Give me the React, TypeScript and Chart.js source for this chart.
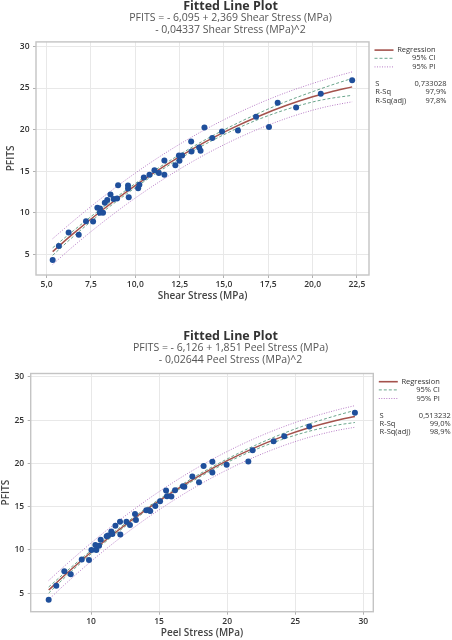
import React, { useEffect, useRef } from "react";
import { Chart, registerables } from "chart.js";

Chart.register(...registerables);

// ---------- shared ----------
const chartTitle = "Fitted Line Plot";
const yTitle = "PFITS";
const pfitsTicks = [5, 10, 15, 20, 25, 30];
const pfitsTickLabels = ["5", "10", "15", "20", "25", "30"];
const legendLabels = ["Regression", "95% CI", "95% PI"];
const statLabels = ["S", "R-Sq", "R-Sq(adj)"];

// ---------- panel 1 : Shear Stress ----------
const shearStress = [
  5.34, 5.69, 6.24, 6.81, 7.22, 7.62, 7.86, 8.01, 8.0, 8.18, 8.28, 8.42, 8.6, 8.78, 8.97,
  9.03, 9.59, 9.59, 9.63, 10.16, 10.23, 10.48, 10.8, 11.08, 11.33, 11.64, 11.64, 12.26,
  12.46, 12.49, 12.64, 13.17, 13.15, 13.6, 13.68, 13.9, 14.34, 14.89, 15.79, 16.81, 17.54,
  18.03, 19.07, 20.46, 22.23,
];
const shearPfits = [
  4.31, 6.0, 7.6, 7.33, 8.97, 8.93, 10.6, 10.5, 10.0, 10.0, 11.2, 11.54, 12.2, 11.66, 11.7,
  13.3, 13.26, 12.9, 11.87, 12.95, 13.35, 14.23, 14.55, 15.1, 14.76, 14.55, 16.28, 15.72,
  16.88, 16.24, 16.88, 17.36, 18.57, 17.85, 17.45, 20.25, 19.0, 19.78, 19.9, 21.55, 20.3,
  23.23, 22.67, 24.3, 25.95,
];
const shearFitX = [5.34, 6.5, 8, 9.5, 11, 12.5, 14, 15.5, 17, 18.5, 20, 21, 22.23];
const shearFit = [5.32, 7.47, 10.08, 12.5, 14.72, 16.74, 18.57, 20.2, 21.64, 22.89, 23.94, 24.53, 25.14];
const shearCiUpper = [5.77, 7.82, 10.36, 12.75, 14.96, 16.99, 18.84, 20.5, 22.01, 23.37, 24.56, 25.31, 26.16];
const shearCiLower = [4.87, 7.12, 9.8, 12.25, 14.48, 16.49, 18.3, 19.9, 21.27, 22.41, 23.32, 23.75, 24.12];
const shearPiUpper = [6.87, 8.99, 11.59, 14.0, 16.22, 18.24, 20.07, 21.71, 23.17, 24.45, 25.55, 26.21, 26.94];
const shearPiLower = [3.77, 5.95, 8.57, 11.0, 13.22, 15.24, 17.07, 18.69, 20.11, 21.33, 22.33, 22.85, 23.34];
const shearTicks = [5, 7.5, 10, 12.5, 15, 17.5, 20, 22.5];
const shearTickLabels = ["5,0", "7,5", "10,0", "12,5", "15,0", "17,5", "20,0", "22,5"];
const shearAxisTitle = "Shear Stress (MPa)";
const shearEquation = ["PFITS = - 6,095 + 2,369 Shear Stress (MPa)", "- 0,04337 Shear Stress (MPa)^2"];
const shearStatValues = ["0,733028", "97,9%", "97,8%"];

// ---------- panel 2 : Peel Stress ----------
const peelStress = [
  6.89, 7.45, 8.04, 8.51, 9.32, 9.85, 10.03, 10.32, 10.39, 10.59, 10.71, 11.15, 11.25, 11.49,
  11.57, 11.79, 12.13, 12.15, 12.6, 12.86, 13.23, 13.3, 14.06, 14.26, 14.35, 14.72, 15.07,
  15.51, 15.58, 15.9, 16.17, 16.75, 16.85, 17.44, 17.93, 18.27, 18.91, 18.91, 19.96, 21.55,
  21.87, 23.41, 24.19, 26.03, 29.38,
];
const peelPfits = [
  4.26, 5.88, 7.55, 7.2, 8.9, 8.83, 9.99, 10.57, 9.99, 10.49, 11.18, 11.6, 11.66, 12.15,
  11.84, 12.81, 13.27, 11.8, 13.27, 12.89, 14.16, 13.47, 14.58, 14.58, 14.51, 15.09, 15.63,
  16.87, 16.21, 16.17, 16.9, 17.37, 17.3, 18.49, 17.83, 19.69, 20.2, 18.96, 19.85, 20.23,
  21.51, 22.55, 23.13, 24.26, 25.85,
];
const peelFitX = [6.89, 8, 10, 12, 14, 16, 18, 20, 22, 24, 26, 28, 29.38];
const peelFit = [5.37, 6.99, 9.74, 12.28, 14.61, 16.72, 18.63, 20.32, 21.8, 23.07, 24.13, 24.97, 25.43];
const peelCiUpper = [5.72, 7.27, 9.94, 12.45, 14.77, 16.89, 18.81, 20.52, 22.05, 23.39, 24.55, 25.53, 26.13];
const peelCiLower = [5.02, 6.71, 9.54, 12.11, 14.45, 16.55, 18.45, 20.12, 21.55, 22.75, 23.71, 24.41, 24.73];
const peelPiUpper = [6.47, 8.07, 10.8, 13.33, 15.66, 17.77, 19.68, 21.38, 22.87, 24.16, 25.25, 26.15, 26.68];
const peelPiLower = [4.27, 5.91, 8.68, 11.23, 13.56, 15.67, 17.58, 19.26, 20.73, 21.98, 23.01, 23.79, 24.18];
const peelTicks = [10, 15, 20, 25, 30];
const peelTickLabels = ["10", "15", "20", "25", "30"];
const peelAxisTitle = "Peel Stress (MPa)";
const peelEquation = ["PFITS = - 6,126 + 1,851 Peel Stress (MPa)", "- 0,02644 Peel Stress (MPa)^2"];
const peelStatValues = ["0,513232", "99,0%", "98,9%"];

// ---------- styles ----------
const FONT = "'Open Sans', 'Noto Sans', sans-serif";
const POINT_COLOR = "#1f4f9b";
const REG_COLOR = "#a4524c";
const CI_COLOR = "#6aa58c";
const PI_COLOR = "#b77cc6";
const GRID_COLOR = "#e8e8e8";
const FRAME_COLOR = "#c4c4c4";

const legendStyles = [
  { color: REG_COLOR, dash: [] as number[], width: 1.6 },
  { color: CI_COLOR, dash: [3, 2], width: 1 },
  { color: PI_COLOR, dash: [1, 1.5], width: 1 },
];

type Layout = {
  padLeft: number;
  yAxisW: number;
  rightW: number;
  xAxisH: number;
  titlePadTop: number;
  subPadBottom: number;
  xTitlePadBottom: number;
  yTitlePadTop: number;
};

type Spec = {
  xs: number[];
  ys: number[];
  fitX: number[];
  fit: number[];
  ciU: number[];
  ciL: number[];
  piU: number[];
  piL: number[];
  xTicks: number[];
  xTickLabels: string[];
  xMin: number;
  xMax: number;
  yMin: number;
  yMax: number;
  xTitle: string;
  equation: string[];
  stats: string[];
  layout: Layout;
};

const sidePanel = {
  id: "sidePanel",
  afterDraw(chart: any, _args: any, opts: any) {
    const { ctx, chartArea } = chart;
    const x0 = chartArea.right;
    const y0 = chartArea.top;
    ctx.save();
    ctx.strokeStyle = FRAME_COLOR;
    ctx.lineWidth = 1.4;
    ctx.setLineDash([]);
    ctx.strokeRect(chartArea.left, chartArea.top, chartArea.right - chartArea.left, chartArea.bottom - chartArea.top);

    const legendY = [8.2, 16.4, 25];
    ctx.font = `7.5px ${FONT}`;
    ctx.fillStyle = "#333";
    ctx.textBaseline = "middle";
    legendLabels.forEach((lab, i) => {
      const y = y0 + legendY[i];
      const st = legendStyles[i];
      ctx.strokeStyle = st.color;
      ctx.lineWidth = st.width;
      ctx.setLineDash(st.dash);
      ctx.beginPath();
      ctx.moveTo(x0 + 5.5, y);
      ctx.lineTo(x0 + 24.5, y);
      ctx.stroke();
      ctx.setLineDash([]);
      ctx.textAlign = "right";
      ctx.fillText(lab, x0 + 66.5, y);
    });
    const statY = [42, 50.3, 58.7];
    statLabels.forEach((lab, i) => {
      const y = y0 + statY[i];
      ctx.textAlign = "left";
      ctx.fillText(lab, x0 + 6.3, y);
      ctx.textAlign = "right";
      ctx.fillText(opts.stats[i], x0 + 77.5, y);
    });
    ctx.restore();
  },
};

function makeConfig(spec: Spec): any {
  const L = spec.layout;
  const curve = (ys: number[]) => spec.fitX.map((x, i) => ({ x, y: ys[i] }));
  const tickFont = { family: FONT, size: 8.5, weight: "600" as const };
  return {
    type: "scatter",
    data: {
      datasets: [
        {
          label: "PFITS",
          data: spec.xs.map((x, i) => ({ x, y: spec.ys[i] })),
          backgroundColor: POINT_COLOR,
          borderWidth: 0,
          pointRadius: 3,
          yAxisID: "y",
        },
        {
          label: "Regression",
          data: curve(spec.fit),
          showLine: true,
          borderColor: REG_COLOR,
          borderWidth: 1.5,
          pointRadius: 0,
          cubicInterpolationMode: "monotone",
          yAxisID: "y",
        },
        {
          label: "95% CI upper",
          data: curve(spec.ciU),
          showLine: true,
          borderColor: CI_COLOR,
          borderWidth: 1,
          borderDash: [3, 2],
          pointRadius: 0,
          cubicInterpolationMode: "monotone",
          yAxisID: "y",
        },
        {
          label: "95% CI lower",
          data: curve(spec.ciL),
          showLine: true,
          borderColor: CI_COLOR,
          borderWidth: 1,
          borderDash: [3, 2],
          pointRadius: 0,
          cubicInterpolationMode: "monotone",
          yAxisID: "y",
        },
        {
          label: "95% PI upper",
          data: curve(spec.piU),
          showLine: true,
          borderColor: PI_COLOR,
          borderWidth: 1,
          borderDash: [1, 1.5],
          pointRadius: 0,
          cubicInterpolationMode: "monotone",
          yAxisID: "y",
        },
        {
          label: "95% PI lower",
          data: curve(spec.piL),
          showLine: true,
          borderColor: PI_COLOR,
          borderWidth: 1,
          borderDash: [1, 1.5],
          pointRadius: 0,
          cubicInterpolationMode: "monotone",
          yAxisID: "y",
        },
      ],
    },
    options: {
      responsive: false,
      animation: false,
      layout: { padding: { left: L.padLeft, right: 0, top: 0, bottom: 0 } },
      plugins: {
        legend: { display: false },
        tooltip: { enabled: false },
        title: {
          display: true,
          text: chartTitle,
          color: "#333",
          font: { family: FONT, size: 12.5, weight: "bold", lineHeight: 1.0 },
          padding: { top: L.titlePadTop, bottom: 0 },
        },
        subtitle: {
          display: true,
          text: spec.equation,
          color: "#555",
          font: { family: FONT, size: 10.5, weight: "normal", lineHeight: 1.1 },
          padding: { top: 0, bottom: L.subPadBottom },
        },
        sidePanel: { stats: spec.stats },
      },
      scales: {
        x: {
          type: "linear",
          position: "bottom",
          min: spec.xMin,
          max: spec.xMax,
          afterBuildTicks: (s: any) => {
            s.ticks = spec.xTicks.map((v) => ({ value: v }));
          },
          afterFit: (s: any) => {
            s.height = L.xAxisH;
          },
          ticks: {
            callback: (_v: any, i: number) => spec.xTickLabels[i],
            font: tickFont,
            color: "#333",
            padding: 1.5,
            maxRotation: 0,
            autoSkip: false,
          },
          grid: { color: GRID_COLOR, tickColor: "#b0b0b0", tickLength: 3 },
          border: { display: false },
          title: {
            display: true,
            text: spec.xTitle,
            color: "#444",
            font: { family: FONT, size: 10, weight: "600", lineHeight: 1.3 },
            padding: { top: 0, bottom: L.xTitlePadBottom },
          },
        },
        y: {
          type: "linear",
          position: "left",
          min: spec.yMin,
          max: spec.yMax,
          afterBuildTicks: (s: any) => {
            s.ticks = pfitsTicks.map((v) => ({ value: v }));
          },
          afterFit: (s: any) => {
            s.width = L.yAxisW;
          },
          ticks: {
            callback: (_v: any, i: number) => pfitsTickLabels[i],
            font: tickFont,
            color: "#333",
            padding: 3.5,
            autoSkip: false,
          },
          grid: { color: GRID_COLOR, tickColor: "#b0b0b0", tickLength: 3 },
          border: { display: false },
          title: {
            display: true,
            text: yTitle,
            color: "#444",
            font: { family: FONT, size: 10, weight: "600", lineHeight: 1.2 },
            padding: { top: L.yTitlePadTop, bottom: 0 },
          },
        },
        yR: {
          type: "linear",
          position: "right",
          display: true,
          afterFit: (s: any) => {
            s.width = L.rightW;
          },
          ticks: { display: false },
          grid: { display: false },
          border: { display: false },
        },
      },
    },
    plugins: [sidePanel],
  };
}

const shearSpec: Spec = {
  xs: shearStress,
  ys: shearPfits,
  fitX: shearFitX,
  fit: shearFit,
  ciU: shearCiUpper,
  ciL: shearCiLower,
  piU: shearPiUpper,
  piL: shearPiLower,
  xTicks: shearTicks,
  xTickLabels: shearTickLabels,
  xMin: 4.4,
  xMax: 23.18,
  yMin: 2.5,
  yMax: 30.55,
  xTitle: shearAxisTitle,
  equation: shearEquation,
  stats: shearStatValues,
  layout: {
    padLeft: 9,
    yAxisW: 27,
    rightW: 83,
    xAxisH: 45,
    titlePadTop: 0,
    subPadBottom: 6.3,
    xTitlePadBottom: 17.5,
    yTitlePadTop: -4,
  },
};

const peelSpec: Spec = {
  xs: peelStress,
  ys: peelPfits,
  fitX: peelFitX,
  fit: peelFit,
  ciU: peelCiUpper,
  ciL: peelCiLower,
  piU: peelPiUpper,
  piL: peelPiLower,
  xTicks: peelTicks,
  xTickLabels: peelTickLabels,
  xMin: 5.57,
  xMax: 30.73,
  yMin: 2.87,
  yMax: 30.39,
  xTitle: peelAxisTitle,
  equation: peelEquation,
  stats: peelStatValues,
  layout: {
    padLeft: 9,
    yAxisW: 21.7,
    rightW: 78.7,
    xAxisH: 28.3,
    titlePadTop: 10.2,
    subPadBottom: 7.7,
    xTitlePadBottom: 0,
    yTitlePadTop: -8.7,
  },
};

function FittedPlot({ spec }: { spec: Spec }) {
  const ref = useRef<HTMLCanvasElement>(null);
  useEffect(() => {
    if (!ref.current) return;
    const chart = new Chart(ref.current, makeConfig(spec));
    return () => chart.destroy();
  }, [spec]);
  return (
    <div style={{ width: 452, height: 320 }}>
      <canvas ref={ref} width={452} height={320} style={{ display: "block", width: 452, height: 320 }} />
    </div>
  );
}

export default function App() {
  useEffect(() => {
    document.body.style.margin = "0";
    document.body.style.background = "#ffffff";
  }, []);
  return (
    <div style={{ width: 452, height: 640, background: "#fff" }}>
      <FittedPlot spec={shearSpec} />
      <FittedPlot spec={peelSpec} />
    </div>
  );
}
